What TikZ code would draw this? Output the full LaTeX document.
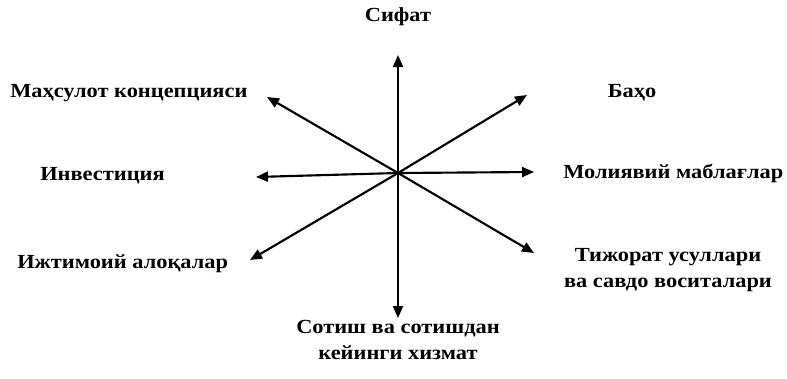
\documentclass[tikz,border=0pt]{standalone}
\usepackage{fontspec}
\setmainfont{Liberation Serif}
\newfontfamily\lblfont{Liberation Serif}[FakeStretch=1.12]
\usepackage{tikz}
\usetikzlibrary{arrows.meta,positioning}
\definecolor{Ink}{HTML}{000000}

\begin{document}
\begin{tikzpicture}[x=0.75pt,y=-0.75pt,
    lbl/.style={font=\lblfont\bfseries\fontsize{15}{19.5}\selectfont,Ink,align=center,inner sep=0pt},
    ray/.style={Ink,line width=1.6pt,-{Triangle[length=9pt,width=7.5pt]}}]
  \useasboundingbox (0,0) rectangle (787,378);
  \coordinate (c) at (398,173);
  % arrow tips
  \foreach \n/\x/\y in {up/398/55, dn/398/318, lf/256/177, rt/534/172,
                        ul/267/97, ur/527/95, dl/250/260, dr/534/253} {
    \coordinate (t\n) at (\x,\y);
    \draw[ray] (c) -- (t\n);
  }
  % labels
  \node[lbl] (sifat) at (398,17) {Сифат};
  \node[lbl,anchor=west] (mahsulot) at (10,93) {Маҳсулот концепцияси};
  \node[lbl] (baho) at (632,93) {Баҳо};
  \node[lbl,anchor=west] (invest) at (40,176) {Инвестиция};
  \node[lbl,anchor=west] (moliya) at (563,173) {Молиявий маблағлар};
  \node[lbl,anchor=west] (ijtimoiy) at (17,264) {Ижтимоий алоқалар};
  \node[lbl] (tijorat) at (668,270) {Тижорат усуллари\\ва савдо воситалари};
  \node[lbl] (sotish) at (398,340) {Сотиш ва сотишдан\\кейинги хизмат};
\end{tikzpicture}
\end{document}
